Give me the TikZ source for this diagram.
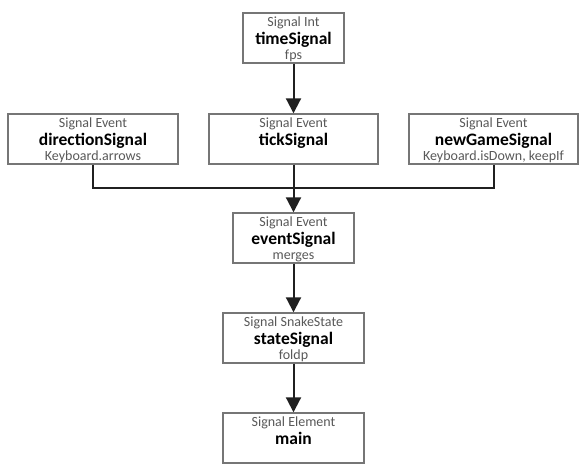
\documentclass[tikz,border=0pt]{standalone}
\usepackage{fontspec}
\setmainfont{Carlito}
\usetikzlibrary{arrows.meta}
\definecolor{bordergray}{HTML}{767676}
\definecolor{subgray}{HTML}{595959}
\definecolor{linedark}{HTML}{202020}
\tikzset{
  sbox/.style={draw=bordergray, line width=1.4pt, fill=white, inner sep=0pt, minimum height=50pt},
  smalltxt/.style={font=\fontsize{14}{16}\selectfont, text=subgray, anchor=base, inner sep=0pt},
  nametxt/.style={font=\fontsize{17.5}{20}\selectfont\bfseries, text=black, anchor=base, inner sep=0pt},
  conn/.style={draw=linedark, line width=2pt},
  arr/.style={conn, -{Triangle[width=15pt,length=15pt]}}
}
\newcommand\sigbox[7]{%
  \node[sbox, minimum width=#4pt] (#1) at (#2,#3+25) {};
  \node[smalltxt] (#1-t) at ([yshift=-14.5pt]#1.north) {#5};
  \node[nametxt] (#1-n) at ([yshift=-32pt]#1.north) {#6};
  \node[smalltxt] (#1-s) at ([yshift=-47pt]#1.north) {#7};
}
\begin{document}
\begin{tikzpicture}[x=1pt,y=-1pt]
\useasboundingbox (0,0) rectangle (586,468);
\sigbox{time}{293.5}{13}{101}{Signal Int}{timeSignal}{fps}
\sigbox{dir}{93}{114}{170}{Signal Event}{directionSignal}{Keyboard.arrows}
\sigbox{tick}{293.5}{114}{169}{Signal Event}{tickSignal}{}
\sigbox{ng}{493.5}{114}{169}{Signal Event}{newGameSignal}{Keyboard.isDown, keepIf}
\sigbox{event}{293.5}{213}{121}{Signal Event}{eventSignal}{merges}
\sigbox{state}{293.5}{313}{141}{Signal SnakeState}{stateSignal}{foldp}
\sigbox{main}{293.5}{413}{141}{Signal Element}{main}{}
\coordinate (j) at (293.5,188);
\draw[arr] (time.south) -- (tick.north);
\draw[conn] (dir.south) |- (j) -| (ng.south);
\draw[arr] (tick.south) -- (event.north);
\draw[arr] (event.south) -- (state.north);
\draw[arr] (state.south) -- (main.north);
\end{tikzpicture}
\end{document}
